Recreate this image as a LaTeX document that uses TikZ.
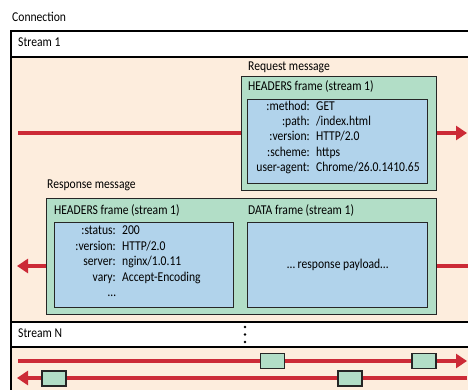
\documentclass[tikz,border=0pt]{standalone}
\usepackage{fontspec}
\setmainfont[FakeStretch=0.86]{Carlito}
\usetikzlibrary{arrows.meta}
\definecolor{peach}{RGB}{253,237,221}
\definecolor{fgreen}{RGB}{178,222,199}
\definecolor{fblue}{RGB}{177,211,235}
\definecolor{ared}{RGB}{204,42,54}
\tikzset{
  txt/.style={inner sep=0pt, font=\fontsize{13.5}{15}\selectfont},
  gbox/.style={draw=black!85, line width=1.4pt, fill=fgreen, inner sep=0pt},
  bbox/.style={draw=black!85, line width=1.4pt, fill=fblue, inner sep=0pt},
  sbox/.style={draw=black!85, line width=1.2pt, fill=fgreen, minimum width=24pt, minimum height=15pt, inner sep=0pt},
  redline/.style={draw=ared, line width=3.2pt},
  redarrow/.style={redline, -{Triangle[length=11pt,width=14pt]}},
  frame/.style={draw=black, line width=1.5pt}
}
\begin{document}
\begin{tikzpicture}[x=1pt,y=-1pt]
\useasboundingbox (0,0) rectangle (468,389);
% connection regions
\fill[peach] (11,31) rectangle (475,395);
\draw[frame, fill=white] (11,31) rectangle (475,57);
\draw[frame] (11,57) -- (11,395);
\draw[frame, fill=white] (11,322) rectangle (475,347);
\node[txt, anchor=mid west] (conn) at (12,19) {Connection};
\node[txt, anchor=mid west] (s1) at (18,44) {Stream 1};
\node[txt, anchor=mid west] (sN) at (18,335) {Stream N};
\fill (245,327) circle (1.4) (245,334.5) circle (1.4) (245,342) circle (1.4);

% request message
\node[txt, anchor=mid west] (reqlbl) at (248,68) {Request message};
\node[gbox, minimum width=195pt, minimum height=114pt, anchor=north west] (reqH) at (241,76) {};
\node[txt, anchor=mid west] (reqHl) at (248,88) {HEADERS frame (stream 1)};
\node[bbox, minimum width=180pt, minimum height=84pt, anchor=north west] (reqB) at (247,99) {};
\foreach \k/\v/\y [count=\i] in {{:method:}/{GET}/108, {:path:}/{/index.html}/123.3, {:version:}/{HTTP/2.0}/138.6, {:scheme:}/{https}/153.9, {user-agent:}/{Chrome/26.0.1410.65}/169.2}{
  \node[txt, anchor=mid east] (rk\i) at (310,\y) {\k};
  \node[txt, anchor=mid west] (rv\i) at (316,\y) {\v};
}
\coordinate (reqS) at (18,133);
\coordinate (reqE) at (467,133);
\draw[redline] (reqS) -- (reqH.west |- reqS);
\draw[redarrow] (reqH.east |- reqE) -- (reqE);

% response message
\node[txt, anchor=mid west] (reslbl) at (47,186) {Response message};
\node[gbox, minimum width=390pt, minimum height=116pt, anchor=north west] (resG) at (46,198) {};
\node[txt, anchor=mid west] (resHl) at (54,212) {HEADERS frame (stream 1)};
\node[txt, anchor=mid west] (resDl) at (248,212) {DATA frame (stream 1)};
\node[bbox, minimum width=179pt, minimum height=85pt, anchor=north west] (resB1) at (54,222) {};
\node[bbox, minimum width=180pt, minimum height=85pt, anchor=north west] (resB2) at (247,222) {};
\node[txt] (payload) at (resB2.center) {\ldots\ response payload\ldots};
\foreach \k/\v/\y [count=\i] in {{:status:}/{200}/232, {:version:}/{HTTP/2.0}/248, {server:}/{nginx/1.0.11}/263.5, {vary:}/{Accept-Encoding}/279}{
  \node[txt, anchor=mid east] (sk\i) at (116,\y) {\k};
  \node[txt, anchor=mid west] (sv\i) at (122,\y) {\v};
}
\node[txt, anchor=mid east] (sk5) at (116,294) {\ldots};
\coordinate (resS) at (470,266);
\coordinate (resE) at (17,266);
\draw[redline] (resS) -- (resG.east |- resS);
\draw[redarrow] (resG.west |- resE) -- (resE);

% stream N
\coordinate (nS1) at (18,361);
\coordinate (nE1) at (467,361);
\coordinate (nS2) at (467,378);
\coordinate (nE2) at (17,378);
\draw[redarrow] (nS1) -- (nE1);
\draw[redarrow] (nS2) -- (nE2);
\node[sbox] (f1) at (272.5,361) {};
\node[sbox] (f2) at (424,361) {};
\node[sbox] (f3) at (54,378.5) {};
\node[sbox] (f4) at (350,378.5) {};
\end{tikzpicture}
\end{document}
